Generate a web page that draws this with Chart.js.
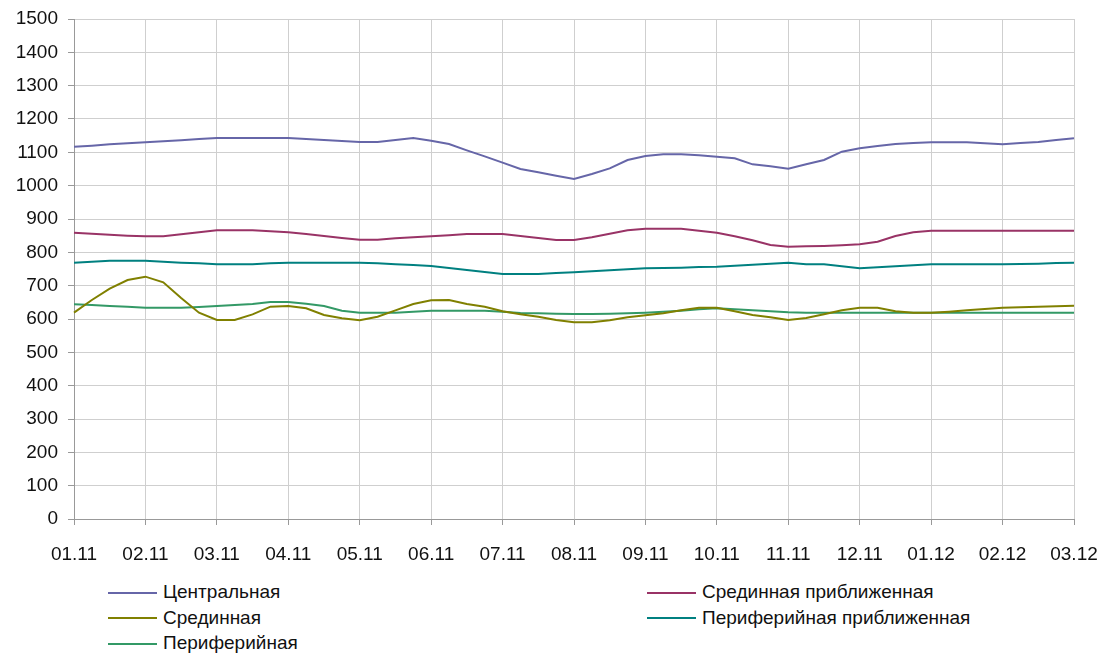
<!DOCTYPE html>
<html>
<head>
<meta charset="utf-8">
<script src="https://cdn.jsdelivr.net/npm/chart.js@4/dist/chart.umd.min.js"></script>
<style>
  body { margin: 0; background: #fff; font-family: 'Liberation Sans', Arial, sans-serif; }
  #wrap { position: relative; width: 1109px; height: 654px; }
  #legend { position: absolute; left: 0; top: 579px; width: 1109px; font-size: 19px; color: #111; }
  .item { position: absolute; height: 26px; line-height: 26px; white-space: nowrap; }
  .item span.ln { display: inline-block; width: 49px; height: 2px; vertical-align: middle; margin-right: 6px; }
</style>
</head>
<body>
<div id="wrap">
  <canvas id="chart" width="1109" height="570"></canvas>
  <div id="legend"></div>
</div>
<script>
// day labels, 4 readings per day
const dateLabels = ['01.11', '02.11', '03.11', '04.11', '05.11', '06.11', '07.11', '08.11',
  '09.11', '10.11', '11.11', '12.11', '01.12', '02.12', '03.12'];

const central = [1117, 1120, 1124, 1127, 1130, 1133, 1136, 1140, 1143, 1143, 1143, 1143, 1143,
  1140, 1137, 1134, 1131, 1131, 1137, 1143, 1135, 1125, 1106, 1088, 1069, 1050, 1040, 1030, 1020,
  1035, 1052, 1077, 1089, 1094, 1094, 1091, 1087, 1082, 1064, 1058, 1051, 1064, 1077, 1102, 1112,
  1119, 1125, 1128, 1130, 1130, 1130, 1127, 1124, 1128, 1131, 1137, 1142];

const midApprox = [859, 856, 853, 850, 848, 848, 854, 860, 866, 866, 866, 863, 860, 855, 849,
  843, 838, 838, 842, 845, 848, 851, 855, 855, 855, 849, 843, 837, 837, 845, 856, 866, 871, 871,
  871, 865, 859, 848, 836, 822, 817, 818, 819, 821, 824, 832, 849, 860, 865, 865, 865, 865, 865,
  865, 865, 865, 865];

const mid = [619, 657, 691, 717, 727, 710, 663, 619, 597, 597, 614, 637, 639, 632, 612, 602,
  596, 607, 626, 645, 656, 657, 645, 637, 623, 614, 607, 597, 590, 590, 596, 605, 611, 617, 626,
  634, 634, 623, 612, 605, 597, 603, 614, 626, 634, 634, 623, 619, 619, 622, 626, 630, 634, 635,
  637, 638, 640];

const periphApprox = [769, 772, 775, 775, 775, 772, 769, 767, 764, 764, 764, 767, 769, 769, 769,
  769, 769, 767, 764, 762, 759, 753, 747, 741, 735, 735, 735, 738, 740, 743, 746, 749, 752, 753,
  754, 756, 757, 760, 763, 766, 769, 764, 764, 758, 752, 755, 758, 761, 764, 764, 764, 764, 764,
  765, 766, 768, 769];

const periph = [644, 642, 639, 637, 634, 634, 634, 636, 639, 642, 645, 651, 651, 646, 639, 625,
  619, 619, 619, 622, 625, 625, 625, 625, 622, 618, 617, 616, 615, 615, 616, 617, 619, 622, 625,
  629, 632, 629, 626, 623, 620, 619, 619, 619, 619, 619, 619, 619, 619, 619, 619, 619, 619, 619,
  619, 619, 619];

const labels = [];
dateLabels.forEach((d, i) => {
  labels.push(d);
  if (i < dateLabels.length - 1) labels.push('', '', '');
});

const ctx = document.getElementById('chart').getContext('2d');
const font = { family: "'Liberation Sans', Arial, sans-serif", size: 19 };

const chart = new Chart(ctx, {
  type: 'line',
  data: {
    labels: labels,
    datasets: [
      { label: 'Центральная', data: central, borderColor: '#6666a8' },
      { label: 'Срединная приближенная', data: midApprox, borderColor: '#993366' },
      { label: 'Срединная', data: mid, borderColor: '#808000' },
      { label: 'Периферийная приближенная', data: periphApprox, borderColor: '#008080' },
      { label: 'Периферийная', data: periph, borderColor: '#339966' },
    ],
  },
  options: {
    responsive: false,
    animation: false,
    layout: { padding: { left: 0, top: 19, right: 35, bottom: 0 } },
    elements: {
      point: { radius: 0 },
      line: { borderWidth: 2, tension: 0 },
    },
    plugins: {
      legend: { display: false },
      tooltip: { enabled: false },
    },
    scales: {
      x: {
        afterFit: (scale) => {
          scale.height = 51;
          scale.paddingLeft = 0;
          scale.paddingRight = 0;
        },
        grid: {
          color: (c) => (c.index % 4 === 0 ? '#cfcfcf' : 'transparent'),
          tickColor: (c) => (c.index % 4 === 0 ? '#999' : 'transparent'),
          tickLength: 6,
        },
        border: { color: '#999' },
        ticks: {
          autoSkip: false,
          maxRotation: 0,
          padding: 18,
          color: '#111',
          font: font,
          callback: function (value) {
            return this.getLabelForValue(value);
          },
        },
      },
      y: {
        min: 0,
        max: 1500,
        afterFit: (scale) => {
          scale.width = 74;
          scale.paddingTop = 0;
          scale.paddingBottom = 0;
        },
        grid: { color: '#cfcfcf', tickColor: '#999', tickLength: 6 },
        border: { color: '#999' },
        ticks: {
          stepSize: 100,
          padding: 10,
          color: '#111',
          font: font,
          callback: (value) => String(value),
        },
      },
    },
  },
});

// two-column legend under the chart
const legend = document.getElementById('legend');
chart.data.datasets.forEach((ds, i) => {
  const el = document.createElement('div');
  el.className = 'item';
  el.style.left = (i % 2 === 0 ? 108 : 647) + 'px';
  el.style.top = Math.floor(i / 2) * 25.5 + 'px';
  el.innerHTML = '<span class="ln" style="background:' + ds.borderColor + '"></span>' + ds.label;
  legend.appendChild(el);
});
</script>
</body>
</html>
